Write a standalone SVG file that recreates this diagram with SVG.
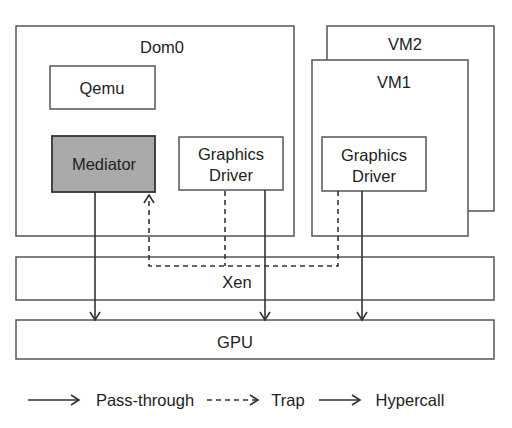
<svg xmlns="http://www.w3.org/2000/svg" width="512" height="428" viewBox="0 0 512 428">
<defs>
<style>
.box{fill:#fff;stroke:#555;stroke-width:1.5}
.med{fill:#aaa;stroke:#333;stroke-width:1.8}
text{font-family:"Liberation Sans",Arial,sans-serif;font-size:16.5px;fill:#222;text-anchor:middle}
.sol{stroke:#333;stroke-width:1.6;fill:none}
.dash{stroke:#333;stroke-width:1.6;fill:none;stroke-dasharray:5,4}
</style>
<marker id="ah" markerUnits="userSpaceOnUse" markerWidth="14" markerHeight="14" refX="10" refY="6" orient="auto">
<path d="M2,1 L10,6 L2,11" fill="none" stroke="#333" stroke-width="1.6"/>
</marker>
</defs>
<rect width="512" height="428" fill="#fff"/>
<g id="vm2"><rect class="box" x="327" y="26" width="167" height="185"/><text x="405" y="50">VM2</text></g>
<g id="dom0"><rect class="box" x="16" y="26" width="278" height="210"/><text x="162" y="53">Dom0</text></g>
<g id="vm1"><rect class="box" x="312" y="60" width="156" height="176"/><text x="394" y="88">VM1</text></g>
<g id="qemu"><rect class="box" x="50" y="66" width="105" height="43"/><text x="102" y="94">Qemu</text></g>
<g id="mediator"><rect class="med" x="52" y="136" width="103" height="56"/><text x="104" y="170">Mediator</text></g>
<g id="gd0"><rect class="box" x="179" y="137" width="104" height="53"/><text x="231" y="160">Graphics</text><text x="231" y="181">Driver</text></g>
<g id="gd1"><rect class="box" x="322" y="137" width="104" height="54"/><text x="374" y="161">Graphics</text><text x="374" y="182">Driver</text></g>
<g id="xen"><rect class="box" x="16" y="257" width="478" height="43"/><text x="237" y="288">Xen</text></g>
<g id="gpu"><rect class="box" x="16" y="320" width="478" height="39"/><text x="235" y="348">GPU</text></g>
<g id="connectors">
<line class="sol" x1="95" y1="192" x2="95" y2="320" marker-end="url(#ah)"/>
<line class="sol" x1="265" y1="190" x2="265" y2="320" marker-end="url(#ah)"/>
<line class="sol" x1="362" y1="191" x2="362" y2="320" marker-end="url(#ah)"/>
<path class="dash" d="M338,191 V266 H149 V195" marker-end="url(#ah)"/>
<line class="dash" x1="225" y1="191" x2="225" y2="266"/>
</g>
<g id="legend">
<line class="sol" x1="28" y1="400" x2="79" y2="400" marker-end="url(#ah)"/>
<text x="145" y="406">Pass-through</text>
<line class="dash" x1="207" y1="400" x2="258" y2="400" marker-end="url(#ah)"/>
<text x="288" y="406">Trap</text>
<line class="sol" x1="319" y1="400" x2="360" y2="400" marker-end="url(#ah)"/>
<text x="410" y="406">Hypercall</text>
</g>
</svg>
